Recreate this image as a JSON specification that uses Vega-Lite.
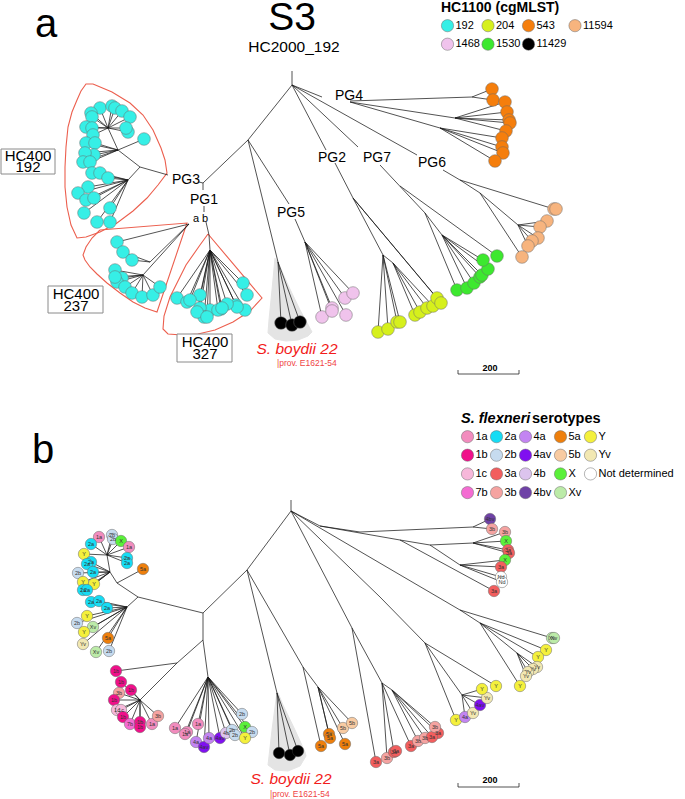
{
"$schema": "https://vega.github.io/schema/vega-lite/v6.json",
"width": 685, "height": 799, "padding": 0, "autosize": {"type": "none"},
"config": {"view": {"stroke": null}, "font": "Liberation Sans"},
"encoding": {
 "x": {"field": "x", "type": "quantitative", "scale": {"domain": [0, 685], "nice": false, "zero": false}, "axis": null},
 "y": {"field": "y", "type": "quantitative", "scale": {"domain": [0, 799], "nice": false, "zero": false, "reverse": true}, "axis": null}
},
"resolve": {"scale": {"color": "independent"}},
"layer": [
{"data": {"values": [
 {"g":"a","o":1,"x":275,"y":258},{"g":"a","o":2,"x":272,"y":290},{"g":"a","o":3,"x":269,"y":320},{"g":"a","o":4,"x":268,"y":333},{"g":"a","o":5,"x":275,"y":339},{"g":"a","o":6,"x":286,"y":341},{"g":"a","o":7,"x":298,"y":340},{"g":"a","o":8,"x":308,"y":336},{"g":"a","o":9,"x":312,"y":332},{"g":"a","o":10,"x":300,"y":310},{"g":"a","o":11,"x":288,"y":285},{"g":"a","o":12,"x":277,"y":260},
 {"g":"b","o":1,"x":277,"y":692},{"g":"b","o":2,"x":272,"y":730},{"g":"b","o":3,"x":268,"y":765},{"g":"b","o":4,"x":275,"y":770},{"g":"b","o":5,"x":288,"y":771},{"g":"b","o":6,"x":300,"y":766},{"g":"b","o":7,"x":306,"y":756},{"g":"b","o":8,"x":305,"y":752},{"g":"b","o":9,"x":295,"y":730},{"g":"b","o":10,"x":283,"y":705},{"g":"b","o":11,"x":278,"y":693}
 ]},
 "mark": {"type": "line", "fill": "#e4e4e4", "stroke": "#e4e4e4", "strokeWidth": 1},
 "encoding": {"detail": {"field": "g"}, "order": {"field": "o", "type": "quantitative"}}},
{"data": {"values": [
 {"g":"p3","o":1,"x":93,"y":84},{"g":"p3","o":2,"x":112,"y":92},{"g":"p3","o":3,"x":130,"y":103},{"g":"p3","o":4,"x":143,"y":115},{"g":"p3","o":5,"x":153,"y":130},{"g":"p3","o":6,"x":161,"y":148},{"g":"p3","o":7,"x":165,"y":160},{"g":"p3","o":8,"x":167,"y":173},{"g":"p3","o":9,"x":158,"y":185},{"g":"p3","o":10,"x":147,"y":198},{"g":"p3","o":11,"x":133,"y":211},{"g":"p3","o":12,"x":117,"y":223},{"g":"p3","o":13,"x":100,"y":232},{"g":"p3","o":14,"x":86,"y":237},{"g":"p3","o":15,"x":77,"y":238},{"g":"p3","o":16,"x":71,"y":225},{"g":"p3","o":17,"x":67,"y":207},{"g":"p3","o":18,"x":65,"y":187},{"g":"p3","o":19,"x":65,"y":167},{"g":"p3","o":20,"x":66,"y":147},{"g":"p3","o":21,"x":68,"y":127},{"g":"p3","o":22,"x":72,"y":112},{"g":"p3","o":23,"x":77,"y":100},{"g":"p3","o":24,"x":81,"y":91},{"g":"p3","o":25,"x":86,"y":84},{"g":"p3","o":26,"x":93,"y":84},
 {"g":"h237","o":1,"x":100,"y":230},{"g":"h237","o":2,"x":187,"y":223},{"g":"h237","o":3,"x":157,"y":312},{"g":"h237","o":4,"x":145,"y":308},{"g":"h237","o":5,"x":133,"y":302},{"g":"h237","o":6,"x":120,"y":293},{"g":"h237","o":7,"x":107,"y":283},{"g":"h237","o":8,"x":97,"y":274},{"g":"h237","o":9,"x":90,"y":267},{"g":"h237","o":10,"x":85,"y":260},{"g":"h237","o":11,"x":83,"y":255},{"g":"h237","o":12,"x":86,"y":247},{"g":"h237","o":13,"x":92,"y":238},{"g":"h237","o":14,"x":100,"y":230},
 {"g":"h327","o":1,"x":208,"y":234},{"g":"h327","o":2,"x":262,"y":298},{"g":"h327","o":3,"x":250,"y":311},{"g":"h327","o":4,"x":233,"y":322},{"g":"h327","o":5,"x":215,"y":330},{"g":"h327","o":6,"x":198,"y":334},{"g":"h327","o":7,"x":182,"y":335},{"g":"h327","o":8,"x":168,"y":334},{"g":"h327","o":9,"x":163,"y":329},{"g":"h327","o":10,"x":164,"y":316},{"g":"h327","o":11,"x":170,"y":297},{"g":"h327","o":12,"x":186,"y":265},{"g":"h327","o":13,"x":200,"y":245},{"g":"h327","o":14,"x":208,"y":234}
 ]},
 "mark": {"type": "line", "stroke": "#EC5F4E", "strokeWidth": 1.1},
 "encoding": {"detail": {"field": "g"}, "order": {"field": "o", "type": "quantitative"}}},
{"data": {"values": [
 {"x":292,"y":71,"x2":292,"y2":85},{"x":292,"y":85,"x2":248,"y2":140},{"x":248,"y":140,"x2":203,"y2":183},{"x":203,"y":183,"x2":199,"y2":182},{"x":168,"y":175,"x2":140,"y2":167},{"x":203,"y":183,"x2":203,"y2":190},{"x":204,"y":206,"x2":204,"y2":212},
 {"x":189,"y":224,"x2":117,"y2":242},{"x":189,"y":224,"x2":150,"y2":262},{"x":150,"y":262,"x2":123,"y2":252},{"x":150,"y":262,"x2":132,"y2":260},{"x":189,"y":224,"x2":143,"y2":275},
 {"x":143,"y":275,"x2":115,"y2":270},{"x":143,"y":275,"x2":122,"y2":278},{"x":143,"y":275,"x2":117,"y2":282},{"x":143,"y":275,"x2":125,"y2":287},{"x":143,"y":275,"x2":132,"y2":293},{"x":143,"y":275,"x2":142,"y2":297},{"x":143,"y":275,"x2":153,"y2":295},{"x":143,"y":275,"x2":160,"y2":287},{"x":143,"y":275,"x2":115,"y2":277},
 {"x":206,"y":222,"x2":209,"y2":235},{"x":209,"y":235,"x2":210,"y2":250},
 {"x":210,"y":250,"x2":243,"y2":283},{"x":210,"y":250,"x2":247,"y2":295},{"x":210,"y":250,"x2":245,"y2":310},{"x":210,"y":250,"x2":236,"y2":305},{"x":210,"y":250,"x2":237,"y2":307},{"x":210,"y":250,"x2":227,"y2":304},{"x":210,"y":250,"x2":221,"y2":309},{"x":210,"y":250,"x2":210,"y2":310},{"x":210,"y":250,"x2":200,"y2":295},{"x":210,"y":250,"x2":200,"y2":308},{"x":210,"y":250,"x2":204,"y2":317},{"x":210,"y":250,"x2":177,"y2":298},{"x":210,"y":250,"x2":187,"y2":302},{"x":210,"y":250,"x2":190,"y2":300},{"x":210,"y":250,"x2":197,"y2":312},{"x":210,"y":250,"x2":207,"y2":317},{"x":210,"y":250,"x2":218,"y2":310},{"x":210,"y":250,"x2":222,"y2":308},
 {"x":140,"y":167,"x2":118,"y2":150},{"x":118,"y":150,"x2":144,"y2":139},{"x":118,"y":150,"x2":108,"y2":128},
 {"x":108,"y":128,"x2":100,"y2":108},{"x":108,"y":128,"x2":112,"y2":106},{"x":108,"y":128,"x2":115,"y2":108},{"x":108,"y":128,"x2":122,"y2":111},{"x":108,"y":128,"x2":130,"y2":117},{"x":108,"y":128,"x2":91,"y2":113},{"x":108,"y":128,"x2":92,"y2":117},{"x":108,"y":128,"x2":86,"y2":127},{"x":108,"y":128,"x2":92,"y2":128},{"x":108,"y":128,"x2":93,"y2":135},{"x":108,"y":128,"x2":128,"y2":132},{"x":108,"y":128,"x2":126,"y2":128},
 {"x":118,"y":150,"x2":86,"y2":143},{"x":118,"y":150,"x2":95,"y2":143},{"x":118,"y":150,"x2":94,"y2":155},{"x":118,"y":150,"x2":85,"y2":153},{"x":118,"y":150,"x2":83,"y2":162},{"x":118,"y":150,"x2":90,"y2":162},
 {"x":140,"y":167,"x2":128,"y2":180},
 {"x":128,"y":180,"x2":92,"y2":173},{"x":128,"y":180,"x2":100,"y2":173},{"x":128,"y":180,"x2":108,"y2":178},{"x":128,"y":180,"x2":88,"y2":187},{"x":128,"y":180,"x2":78,"y2":193},{"x":128,"y":180,"x2":86,"y2":200},{"x":128,"y":180,"x2":94,"y2":198},{"x":128,"y":180,"x2":84,"y2":213},{"x":128,"y":180,"x2":110,"y2":208},{"x":128,"y":180,"x2":97,"y2":222},{"x":128,"y":180,"x2":110,"y2":222},
 {"x":248,"y":140,"x2":289,"y2":204},{"x":295,"y":219,"x2":305,"y2":242},
 {"x":305,"y":242,"x2":322,"y2":317},{"x":305,"y":242,"x2":332,"y2":308},{"x":305,"y":242,"x2":332,"y2":311},{"x":305,"y":242,"x2":345,"y2":298},{"x":305,"y":242,"x2":353,"y2":293},{"x":305,"y":242,"x2":346,"y2":315},
 {"x":248,"y":140,"x2":278,"y2":262},{"x":278,"y":262,"x2":281,"y2":323},{"x":278,"y":262,"x2":292,"y2":325},{"x":278,"y":262,"x2":300,"y2":322},
 {"x":292,"y":85,"x2":326,"y2":150},{"x":335,"y":163,"x2":353,"y2":198},{"x":353,"y":198,"x2":383,"y2":255},
 {"x":383,"y":255,"x2":378,"y2":332},{"x":383,"y":255,"x2":388,"y2":329},{"x":383,"y":255,"x2":397,"y2":322},{"x":383,"y":255,"x2":400,"y2":322},{"x":383,"y":255,"x2":393,"y2":263},
 {"x":393,"y":263,"x2":415,"y2":315},{"x":393,"y":263,"x2":420,"y2":312},{"x":393,"y":263,"x2":427,"y2":308},{"x":393,"y":263,"x2":433,"y2":306},
 {"x":353,"y":198,"x2":437,"y2":298},{"x":353,"y":198,"x2":441,"y2":303},
 {"x":292,"y":85,"x2":358,"y2":147},{"x":380,"y":165,"x2":425,"y2":213},{"x":400,"y":186,"x2":497,"y2":256},{"x":425,"y":213,"x2":457,"y2":290},{"x":425,"y":213,"x2":442,"y2":235},
 {"x":442,"y":235,"x2":467,"y2":288},{"x":442,"y":235,"x2":474,"y2":283},{"x":442,"y":235,"x2":480,"y2":277},{"x":442,"y":235,"x2":482,"y2":275},{"x":442,"y":235,"x2":488,"y2":269},{"x":442,"y":235,"x2":483,"y2":260},
 {"x":292,"y":85,"x2":417,"y2":155},{"x":443,"y":170,"x2":460,"y2":180},{"x":460,"y":180,"x2":554,"y2":209},{"x":460,"y":180,"x2":480,"y2":193},{"x":480,"y":193,"x2":518,"y2":225},
 {"x":518,"y":225,"x2":547,"y2":221},{"x":518,"y":225,"x2":540,"y2":227},{"x":518,"y":225,"x2":538,"y2":238},{"x":518,"y":225,"x2":532,"y2":241},{"x":518,"y":225,"x2":528,"y2":246},{"x":480,"y":193,"x2":522,"y2":257},
 {"x":292,"y":85,"x2":322,"y2":97},{"x":350,"y":101,"x2":472,"y2":97},{"x":472,"y":97,"x2":492,"y2":89},{"x":472,"y":97,"x2":493,"y2":100},
 {"x":350,"y":102,"x2":455,"y2":118},{"x":455,"y":118,"x2":505,"y2":102},{"x":455,"y":118,"x2":507,"y2":112},{"x":455,"y":118,"x2":509,"y2":120},{"x":455,"y":118,"x2":510,"y2":123},{"x":455,"y":118,"x2":506,"y2":131},
 {"x":350,"y":102,"x2":440,"y2":128},{"x":440,"y":128,"x2":502,"y2":138},{"x":440,"y":128,"x2":502,"y2":147},{"x":440,"y":128,"x2":503,"y2":153},{"x":440,"y":128,"x2":495,"y2":161},
 {"x":458,"y":374,"x2":519,"y2":374},{"x":458,"y":370,"x2":458,"y2":374},{"x":519,"y":370,"x2":519,"y2":374},
 {"x":458,"y":787,"x2":519,"y2":787},{"x":458,"y":783,"x2":458,"y2":787},{"x":519,"y":783,"x2":519,"y2":787},
 {"x":291,"y":500,"x2":291,"y2":511},{"x":291,"y":511,"x2":247,"y2":570},{"x":247,"y":570,"x2":203,"y2":613},{"x":203,"y":613,"x2":203,"y2":640},{"x":203,"y":613,"x2":138,"y2":597},
 {"x":138,"y":597,"x2":117,"y2":583},{"x":117,"y":583,"x2":143,"y2":569},{"x":117,"y":583,"x2":110,"y2":572},{"x":110,"y":572,"x2":107,"y2":555},
 {"x":107,"y":555,"x2":99,"y2":537},{"x":107,"y":555,"x2":112,"y2":535},{"x":107,"y":555,"x2":113,"y2":539},{"x":107,"y":555,"x2":121,"y2":541},{"x":107,"y":555,"x2":129,"y2":547},{"x":107,"y":555,"x2":91,"y2":544},{"x":107,"y":555,"x2":127,"y2":558},{"x":107,"y":555,"x2":127,"y2":563},{"x":107,"y":555,"x2":84,"y2":554},
 {"x":110,"y":572,"x2":91,"y2":562},{"x":110,"y":572,"x2":87,"y2":564},{"x":110,"y":572,"x2":93,"y2":572},{"x":110,"y":572,"x2":78,"y2":573},{"x":110,"y":572,"x2":83,"y2":582},{"x":110,"y":572,"x2":94,"y2":584},{"x":110,"y":572,"x2":83,"y2":590},{"x":110,"y":572,"x2":87,"y2":590},
 {"x":138,"y":597,"x2":127,"y2":607},
 {"x":127,"y":607,"x2":91,"y2":602},{"x":127,"y":607,"x2":99,"y2":601},{"x":127,"y":607,"x2":107,"y2":608},{"x":127,"y":607,"x2":87,"y2":616},{"x":127,"y":607,"x2":77,"y2":623},{"x":127,"y":607,"x2":93,"y2":627},{"x":127,"y":607,"x2":84,"y2":632},{"x":127,"y":607,"x2":108,"y2":638},{"x":127,"y":607,"x2":83,"y2":644},{"x":127,"y":607,"x2":96,"y2":652},{"x":127,"y":607,"x2":109,"y2":651},
 {"x":203,"y":640,"x2":177,"y2":663},{"x":177,"y":663,"x2":116,"y2":671},{"x":177,"y":663,"x2":140,"y2":700},
 {"x":140,"y":700,"x2":121,"y2":682},{"x":140,"y":700,"x2":131,"y2":690},{"x":140,"y":700,"x2":119,"y2":693},{"x":140,"y":700,"x2":114,"y2":700},{"x":140,"y":700,"x2":117,"y2":710},{"x":140,"y":700,"x2":121,"y2":710},{"x":140,"y":700,"x2":123,"y2":717},{"x":140,"y":700,"x2":130,"y2":724},{"x":140,"y":700,"x2":140,"y2":722},{"x":140,"y":700,"x2":140,"y2":727},{"x":140,"y":700,"x2":152,"y2":724},{"x":140,"y":700,"x2":158,"y2":716},
 {"x":203,"y":640,"x2":208,"y2":677},
 {"x":208,"y":677,"x2":175,"y2":728},{"x":208,"y":677,"x2":187,"y2":732},{"x":208,"y":677,"x2":185,"y2":734},{"x":208,"y":677,"x2":198,"y2":724},{"x":208,"y":677,"x2":196,"y2":742},{"x":208,"y":677,"x2":204,"y2":747},{"x":208,"y":677,"x2":209,"y2":738},{"x":208,"y":677,"x2":220,"y2":738},{"x":208,"y":677,"x2":226,"y2":733},{"x":208,"y":677,"x2":235,"y2":735},{"x":208,"y":677,"x2":232,"y2":730},{"x":208,"y":677,"x2":242,"y2":714},{"x":208,"y":677,"x2":245,"y2":727},{"x":208,"y":677,"x2":252,"y2":732},{"x":208,"y":677,"x2":245,"y2":738},
 {"x":247,"y":570,"x2":277,"y2":693},{"x":277,"y":693,"x2":279,"y2":753},{"x":277,"y":693,"x2":290,"y2":755},{"x":277,"y":693,"x2":298,"y2":751},
 {"x":247,"y":570,"x2":303,"y2":667},{"x":303,"y":667,"x2":321,"y2":746},{"x":303,"y":667,"x2":318,"y2":687},
 {"x":318,"y":687,"x2":329,"y2":734},{"x":318,"y":687,"x2":330,"y2":738},{"x":318,"y":687,"x2":345,"y2":744},{"x":318,"y":687,"x2":343,"y2":728},{"x":318,"y":687,"x2":352,"y2":723},
 {"x":291,"y":511,"x2":340,"y2":605},{"x":340,"y":605,"x2":352,"y2":628},{"x":352,"y":628,"x2":376,"y2":762},{"x":352,"y":628,"x2":382,"y2":683},
 {"x":382,"y":683,"x2":387,"y2":758},{"x":382,"y":683,"x2":394,"y2":752},{"x":382,"y":683,"x2":411,"y2":746},{"x":382,"y":683,"x2":392,"y2":690},
 {"x":392,"y":690,"x2":418,"y2":741},{"x":392,"y":690,"x2":425,"y2":738},{"x":392,"y":690,"x2":432,"y2":737},{"x":392,"y":690,"x2":435,"y2":727},{"x":392,"y":690,"x2":438,"y2":733},
 {"x":291,"y":511,"x2":380,"y2":597},{"x":380,"y":597,"x2":425,"y2":643},{"x":425,"y":643,"x2":456,"y2":720},{"x":425,"y":643,"x2":462,"y2":695},
 {"x":462,"y":695,"x2":465,"y2":717},{"x":462,"y":695,"x2":473,"y2":713},{"x":462,"y":695,"x2":480,"y2":705},{"x":462,"y":695,"x2":487,"y2":698},{"x":462,"y":695,"x2":482,"y2":689},{"x":425,"y":643,"x2":496,"y2":686},
 {"x":291,"y":511,"x2":460,"y2":610},{"x":460,"y":610,"x2":552,"y2":638},{"x":460,"y":610,"x2":480,"y2":623},{"x":480,"y":623,"x2":546,"y2":650},{"x":480,"y":623,"x2":538,"y2":657},{"x":480,"y":623,"x2":517,"y2":653},
 {"x":517,"y":653,"x2":537,"y2":667},{"x":517,"y":653,"x2":533,"y2":669},{"x":517,"y":653,"x2":528,"y2":672},{"x":517,"y":653,"x2":526,"y2":676},{"x":480,"y":623,"x2":520,"y2":686},
 {"x":291,"y":511,"x2":320,"y2":526},{"x":320,"y":526,"x2":360,"y2":532},{"x":360,"y":532,"x2":473,"y2":527},{"x":473,"y":527,"x2":490,"y2":519},{"x":473,"y":527,"x2":492,"y2":529},
 {"x":320,"y":526,"x2":400,"y2":540},{"x":400,"y":540,"x2":430,"y2":545},{"x":430,"y":545,"x2":473,"y2":543},
 {"x":473,"y":543,"x2":505,"y2":532},{"x":473,"y":543,"x2":506,"y2":541},{"x":473,"y":543,"x2":508,"y2":550},{"x":473,"y":543,"x2":509,"y2":553},
 {"x":430,"y":545,"x2":460,"y2":565},{"x":460,"y":565,"x2":505,"y2":560},{"x":460,"y":565,"x2":501,"y2":567},{"x":460,"y":565,"x2":501,"y2":577},{"x":460,"y":565,"x2":502,"y2":582},{"x":400,"y":540,"x2":494,"y2":591}
 ]},
 "mark": {"type": "rule", "color": "#1a1a1a", "strokeWidth": 0.75},
 "encoding": {"x2": {"field": "x2"}, "y2": {"field": "y2"}}},
{"data": {"values": [{"x":1,"y":149,"x2":55,"y2":174},{"x":48,"y":286,"x2":103,"y2":313},{"x":177,"y":334,"x2":232,"y2":362}]},
 "mark": {"type": "rect", "fill": "white", "stroke": "#8a8a8a", "strokeWidth": 1},
 "encoding": {"x2": {"field": "x2"}, "y2": {"field": "y2"}}},
{"data": {"values": [{"t":"HC400","x":28,"y":161},{"t":"192","x":28,"y":172},{"t":"HC400","x":76,"y":299},{"t":"237","x":76,"y":311},{"t":"HC400","x":205,"y":347},{"t":"327","x":205,"y":359}]},
 "mark": {"type": "text", "fontSize": 15, "align": "center", "baseline": "alphabetic", "color": "black"},
 "encoding": {"text": {"field": "t"}}},
{"data": {"values": [{"t":"PG4","x":335,"y":100},{"t":"PG3","x":172,"y":184},{"t":"PG1","x":190,"y":204},{"t":"PG5","x":277,"y":217},{"t":"PG2","x":318,"y":162},{"t":"PG7","x":363,"y":162},{"t":"PG6","x":418,"y":167}]},
 "mark": {"type": "text", "fontSize": 14, "align": "left", "baseline": "alphabetic", "color": "black"},
 "encoding": {"text": {"field": "t"}}},
{"data": {"values": [{"t":"a","x":193,"y":222},{"t":"b","x":202,"y":222}]},
 "mark": {"type": "text", "fontSize": 11, "align": "left", "baseline": "alphabetic", "color": "black"},
 "encoding": {"text": {"field": "t"}}},
{"data": {"values": [
 {"x":100,"y":108,"hc":"192"},{"x":112,"y":106,"hc":"192"},{"x":115,"y":108,"hc":"192"},{"x":122,"y":111,"hc":"192"},{"x":130,"y":117,"hc":"192"},{"x":91,"y":113,"hc":"192"},{"x":92,"y":117,"hc":"192"},{"x":86,"y":127,"hc":"192"},{"x":92,"y":128,"hc":"192"},{"x":93,"y":135,"hc":"192"},{"x":128,"y":132,"hc":"192"},{"x":126,"y":128,"hc":"192"},{"x":144,"y":139,"hc":"192"},{"x":86,"y":143,"hc":"192"},{"x":95,"y":143,"hc":"192"},{"x":94,"y":155,"hc":"192"},{"x":85,"y":153,"hc":"192"},{"x":83,"y":162,"hc":"192"},{"x":90,"y":162,"hc":"192"},{"x":92,"y":173,"hc":"192"},{"x":100,"y":173,"hc":"192"},{"x":108,"y":178,"hc":"192"},{"x":88,"y":187,"hc":"192"},{"x":78,"y":193,"hc":"192"},{"x":86,"y":200,"hc":"192"},{"x":94,"y":198,"hc":"192"},{"x":84,"y":213,"hc":"192"},{"x":110,"y":208,"hc":"192"},{"x":97,"y":222,"hc":"192"},{"x":110,"y":222,"hc":"192"},
 {"x":117,"y":242,"hc":"192"},{"x":123,"y":252,"hc":"192"},{"x":132,"y":260,"hc":"192"},{"x":115,"y":270,"hc":"192"},{"x":122,"y":278,"hc":"192"},{"x":117,"y":282,"hc":"192"},{"x":125,"y":287,"hc":"192"},{"x":132,"y":293,"hc":"192"},{"x":142,"y":297,"hc":"192"},{"x":153,"y":295,"hc":"192"},{"x":160,"y":287,"hc":"192"},{"x":115,"y":277,"hc":"192"},
 {"x":243,"y":283,"hc":"192"},{"x":247,"y":295,"hc":"192"},{"x":245,"y":310,"hc":"192"},{"x":236,"y":305,"hc":"192"},{"x":237,"y":307,"hc":"192"},{"x":227,"y":304,"hc":"192"},{"x":221,"y":309,"hc":"192"},{"x":210,"y":310,"hc":"192"},{"x":200,"y":295,"hc":"192"},{"x":200,"y":308,"hc":"192"},{"x":204,"y":317,"hc":"192"},{"x":177,"y":298,"hc":"192"},{"x":187,"y":302,"hc":"192"},{"x":190,"y":300,"hc":"192"},{"x":197,"y":312,"hc":"192"},{"x":207,"y":317,"hc":"192"},{"x":218,"y":310,"hc":"192"},{"x":222,"y":308,"hc":"192"},
 {"x":378,"y":332,"hc":"204"},{"x":388,"y":329,"hc":"204"},{"x":397,"y":322,"hc":"204"},{"x":400,"y":322,"hc":"204"},{"x":415,"y":315,"hc":"204"},{"x":420,"y":312,"hc":"204"},{"x":427,"y":308,"hc":"204"},{"x":433,"y":306,"hc":"204"},{"x":437,"y":298,"hc":"204"},{"x":441,"y":303,"hc":"204"},
 {"x":457,"y":290,"hc":"1530"},{"x":467,"y":288,"hc":"1530"},{"x":474,"y":283,"hc":"1530"},{"x":480,"y":277,"hc":"1530"},{"x":482,"y":275,"hc":"1530"},{"x":488,"y":269,"hc":"1530"},{"x":483,"y":260,"hc":"1530"},{"x":497,"y":256,"hc":"1530"},
 {"x":554,"y":209,"hc":"11594"},{"x":556,"y":209,"hc":"11594"},{"x":547,"y":221,"hc":"11594"},{"x":540,"y":227,"hc":"11594"},{"x":538,"y":238,"hc":"11594"},{"x":532,"y":241,"hc":"11594"},{"x":528,"y":246,"hc":"11594"},{"x":522,"y":257,"hc":"11594"},
 {"x":492,"y":89,"hc":"543"},{"x":493,"y":100,"hc":"543"},{"x":505,"y":102,"hc":"543"},{"x":507,"y":112,"hc":"543"},{"x":509,"y":120,"hc":"543"},{"x":510,"y":123,"hc":"543"},{"x":506,"y":131,"hc":"543"},{"x":502,"y":138,"hc":"543"},{"x":502,"y":147,"hc":"543"},{"x":503,"y":153,"hc":"543"},{"x":495,"y":161,"hc":"543"},
 {"x":322,"y":317,"hc":"1468"},{"x":332,"y":308,"hc":"1468"},{"x":332,"y":311,"hc":"1468"},{"x":345,"y":298,"hc":"1468"},{"x":353,"y":293,"hc":"1468"},{"x":346,"y":315,"hc":"1468"},
 {"x":281,"y":323,"hc":"11429"},{"x":292,"y":325,"hc":"11429"},{"x":300,"y":322,"hc":"11429"}
 ]},
 "mark": {"type": "point", "shape": "circle", "filled": true, "opacity": 1, "size": 160, "stroke": "#6a6a6a", "strokeWidth": 0.5},
 "encoding": {"color": {"field": "hc", "type": "nominal",
  "scale": {"domain": ["192","204","543","11594","1468","1530","11429"], "range": ["#36EFE6","#D6F01C","#F57E0C","#F7B47E","#F0C3EC","#3DE82F","#000000"]},
  "legend": {"title": "HC1100 (cgMLST)", "orient": "none", "legendX": 441, "legendY": 1, "direction": "horizontal", "columns": 4, "symbolType": "circle", "symbolSize": 150, "symbolOpacity": 1, "symbolStrokeColor": "#6a6a6a", "symbolStrokeWidth": 0.5, "labelFontSize": 11, "labelColor": "black", "labelOffset": 1.5, "titleFontSize": 14, "titleFontWeight": "bold", "titleColor": "black", "titlePadding": 4, "rowPadding": 3.7, "columnPadding": 0.5, "padding": 0}}}},
{"data": {"values": [
 {"x":99,"y":537,"s":"1a","l":"1a"},{"x":112,"y":535,"s":"2b","l":"2b"},{"x":113,"y":539,"s":"2b","l":"2b"},{"x":121,"y":541,"s":"X","l":"X"},{"x":129,"y":547,"s":"1a","l":"1a"},{"x":91,"y":544,"s":"2a","l":"2a"},{"x":127,"y":558,"s":"2a","l":"2a"},{"x":127,"y":563,"s":"2a","l":"2a"},{"x":84,"y":554,"s":"Y","l":"Y"},
 {"x":91,"y":562,"s":"2a","l":"2a"},{"x":87,"y":564,"s":"2a","l":"2a"},{"x":93,"y":572,"s":"2a","l":"2a"},{"x":78,"y":573,"s":"2b","l":"2b"},{"x":83,"y":582,"s":"Y","l":"Y"},{"x":94,"y":584,"s":"Y","l":"Y"},{"x":83,"y":590,"s":"2a","l":"2a"},{"x":87,"y":590,"s":"2a","l":"2a"},
 {"x":143,"y":569,"s":"5a","l":"5a"},
 {"x":91,"y":602,"s":"2a","l":"2a"},{"x":99,"y":601,"s":"2a","l":"2a"},{"x":107,"y":608,"s":"2a","l":"2a"},{"x":87,"y":616,"s":"Y","l":"Y"},{"x":77,"y":623,"s":"2b","l":"2b"},{"x":93,"y":627,"s":"Xv","l":"Xv"},{"x":84,"y":632,"s":"Y","l":"Y"},{"x":108,"y":638,"s":"5a","l":"5a"},{"x":83,"y":644,"s":"Yv","l":"Yv"},{"x":96,"y":652,"s":"Xv","l":"Xv"},{"x":109,"y":651,"s":"2b","l":"2b"},
 {"x":116,"y":671,"s":"1b","l":"1b"},{"x":121,"y":682,"s":"1b","l":"1b"},{"x":131,"y":690,"s":"1b","l":"1b"},{"x":119,"y":693,"s":"3b","l":"3b"},{"x":114,"y":700,"s":"1b","l":"1b"},{"x":117,"y":710,"s":"1c","l":"1c"},{"x":121,"y":710,"s":"1c","l":"1c"},{"x":123,"y":717,"s":"1b","l":"1b"},{"x":130,"y":724,"s":"7b","l":"7b"},{"x":140,"y":722,"s":"1b","l":"1b"},{"x":140,"y":727,"s":"1b","l":"1b"},{"x":152,"y":724,"s":"1a","l":"1a"},{"x":158,"y":716,"s":"3b","l":"3b"},
 {"x":175,"y":728,"s":"1a","l":"1a"},{"x":187,"y":732,"s":"1a","l":"1a"},{"x":185,"y":734,"s":"1a","l":"1a"},{"x":198,"y":724,"s":"1a","l":"1a"},{"x":196,"y":742,"s":"4a","l":"4a"},{"x":204,"y":747,"s":"4av","l":"4av"},{"x":209,"y":738,"s":"4a","l":"4a"},{"x":220,"y":738,"s":"4av","l":"4av"},{"x":226,"y":733,"s":"4b","l":"4b"},{"x":232,"y":730,"s":"2b","l":"2b"},{"x":235,"y":735,"s":"2b","l":"2b"},{"x":242,"y":714,"s":"2b","l":"2b"},{"x":245,"y":727,"s":"X","l":"X"},{"x":252,"y":732,"s":"2b","l":"2b"},{"x":245,"y":738,"s":"Y","l":"Y"},
 {"x":321,"y":746,"s":"5a","l":"5a"},{"x":329,"y":734,"s":"5a","l":"5a"},{"x":330,"y":738,"s":"5a","l":"5a"},{"x":345,"y":744,"s":"5a","l":"5a"},{"x":343,"y":728,"s":"5b","l":"5b"},{"x":352,"y":723,"s":"5b","l":"5b"},
 {"x":376,"y":762,"s":"3a","l":"3a"},{"x":387,"y":758,"s":"3b","l":"3b"},{"x":394,"y":752,"s":"3a","l":"3a"},{"x":396,"y":751,"s":"3a","l":"3a"},{"x":411,"y":746,"s":"3a","l":"3a"},{"x":418,"y":741,"s":"3b","l":"3b"},{"x":425,"y":738,"s":"3b","l":"3b"},{"x":438,"y":733,"s":"3a","l":"3a"},{"x":432,"y":737,"s":"3a","l":"3a"},{"x":435,"y":727,"s":"3b","l":"3b"},
 {"x":456,"y":720,"s":"Y","l":"Y"},{"x":465,"y":717,"s":"4a","l":"4a"},{"x":473,"y":713,"s":"Yv","l":"Yv"},{"x":480,"y":705,"s":"4av","l":"4av"},{"x":487,"y":698,"s":"Yv","l":"Yv"},{"x":482,"y":689,"s":"Y","l":"Y"},{"x":496,"y":686,"s":"Y","l":"Y"},
 {"x":552,"y":638,"s":"Xv","l":"Xv"},{"x":554,"y":638,"s":"Xv","l":"Xv"},{"x":546,"y":650,"s":"Y","l":"Y"},{"x":538,"y":657,"s":"Y","l":"Y"},{"x":537,"y":667,"s":"Yv","l":"Yv"},{"x":533,"y":669,"s":"Yv","l":"Yv"},{"x":528,"y":672,"s":"Yv","l":"Yv"},{"x":526,"y":676,"s":"Yv","l":"Yv"},{"x":520,"y":686,"s":"Y","l":"Y"},
 {"x":490,"y":519,"s":"4bv","l":"4bv"},{"x":492,"y":529,"s":"3b","l":"3b"},{"x":505,"y":532,"s":"3b","l":"3b"},{"x":506,"y":541,"s":"X","l":"X"},{"x":508,"y":550,"s":"3a","l":"3a"},{"x":509,"y":553,"s":"3a","l":"3a"},{"x":505,"y":560,"s":"X","l":"X"},{"x":501,"y":567,"s":"3a","l":"3a"},{"x":501,"y":577,"s":"Not determined","l":"Nd"},{"x":502,"y":582,"s":"Not determined","l":"Nd"},{"x":494,"y":591,"s":"3a","l":"3a"}
 ]},
 "layer": [
  {"mark": {"type": "point", "shape": "circle", "filled": true, "opacity": 1, "size": 130, "stroke": "#6a6a6a", "strokeWidth": 0.5},
   "encoding": {"color": {"field": "s", "type": "nominal",
    "scale": {"domain": ["1a","2a","4a","5a","Y","1b","2b","4av","5b","Yv","1c","3a","4b","X","Not determined","7b","3b","4bv","Xv"],
              "range": ["#F28CBE","#16DCF4","#C384F2","#EE7F0C","#F4F03C","#F0108A","#C6DBEF","#8010F0","#F8CBA2","#F2E8B2","#F7B8DA","#F25E5E","#DCC4EE","#5BF03A","#FFFFFF","#F46CD2","#F5A3A1","#6F42A6","#BCEBA8"]},
    "legend": {"title": null, "orient": "none", "legendX": 461, "legendY": 430, "direction": "horizontal", "columns": 5, "symbolType": "circle", "symbolSize": 150, "symbolOpacity": 1, "symbolStrokeColor": "#6a6a6a", "symbolStrokeWidth": 0.5, "labelFontSize": 11, "labelColor": "black", "labelOffset": 1.5, "labelLimit": 200, "rowPadding": 3.7, "columnPadding": 1, "padding": 0}}}},
  {"mark": {"type": "text", "fontSize": 5.5, "color": "#333", "align": "center", "baseline": "middle"},
   "encoding": {"text": {"field": "l"}}}
 ]},
{"data": {"values": [{"x":279,"y":753},{"x":290,"y":755},{"x":298,"y":751}]},
 "mark": {"type": "point", "shape": "circle", "filled": true, "opacity": 1, "size": 130, "color": "black", "stroke": "#333", "strokeWidth": 0.5}},
{"data": {"values": [{"t":"a","x":35,"y":37},{"t":"b","x":32,"y":463}]},
 "mark": {"type": "text", "fontSize": 40, "align": "left", "baseline": "alphabetic", "color": "black"},
 "encoding": {"text": {"field": "t"}}},
{"data": {"values": [{"t":"S3","x":292,"y":30}]},
 "mark": {"type": "text", "fontSize": 39, "align": "center", "baseline": "alphabetic", "color": "black"},
 "encoding": {"text": {"field": "t"}}},
{"data": {"values": [{"t":"HC2000_192","x":294,"y":52}]},
 "mark": {"type": "text", "fontSize": 15.5, "align": "center", "baseline": "alphabetic", "color": "black"},
 "encoding": {"text": {"field": "t"}}},
{"data": {"values": [{"t":"S. boydii 22","x":297,"y":354},{"t":"S. boydii 22","x":291,"y":784}]},
 "mark": {"type": "text", "fontSize": 15.5, "fontStyle": "italic", "align": "center", "baseline": "alphabetic", "color": "#F21C1C"},
 "encoding": {"text": {"field": "t"}}},
{"data": {"values": [{"t":"|prov. E1621-54","x":277,"y":366},{"t":"|prov. E1621-54","x":270,"y":797}]},
 "mark": {"type": "text", "fontSize": 8.5, "align": "left", "baseline": "alphabetic", "color": "#F04444"},
 "encoding": {"text": {"field": "t"}}},
{"data": {"values": [{"t":"200","x":490,"y":371},{"t":"200","x":490,"y":783}]},
 "mark": {"type": "text", "fontSize": 9, "fontWeight": "bold", "align": "center", "baseline": "alphabetic", "color": "black"},
 "encoding": {"text": {"field": "t"}}},
{"data": {"values": [{"t":"S. flexneri","x":461,"y":423}]},
 "mark": {"type": "text", "fontSize": 14.5, "fontWeight": "bold", "fontStyle": "italic", "align": "left", "baseline": "alphabetic", "color": "black"},
 "encoding": {"text": {"field": "t"}}},
{"data": {"values": [{"t":"serotypes","x":532,"y":423}]},
 "mark": {"type": "text", "fontSize": 14.5, "fontWeight": "bold", "align": "left", "baseline": "alphabetic", "color": "black"},
 "encoding": {"text": {"field": "t"}}}
]
}
